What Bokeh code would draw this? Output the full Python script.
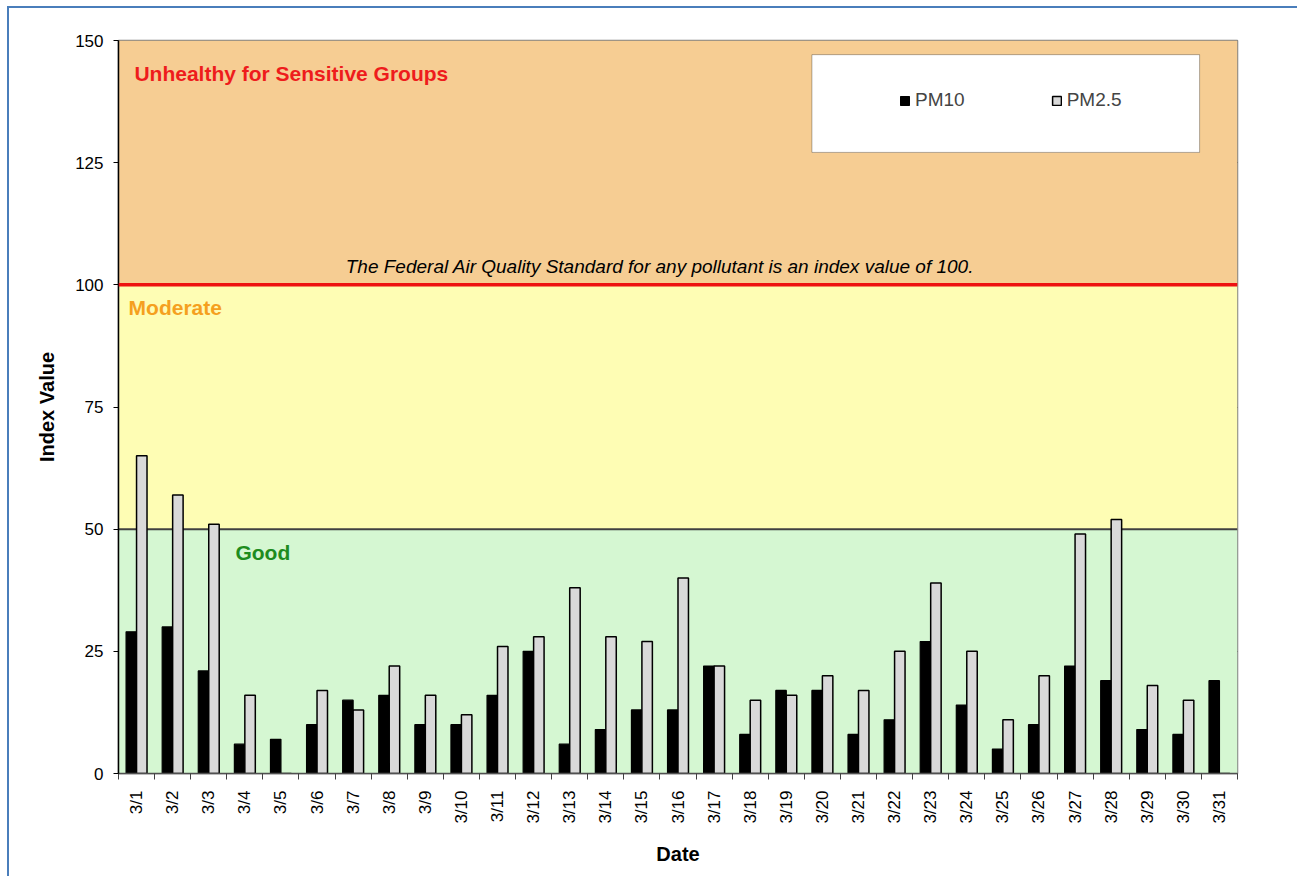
import math
from bokeh.plotting import figure
from bokeh.models import (Range1d, FixedTicker, BoxAnnotation, Span, Label,
                          Legend, LegendItem, ColumnDataSource)
from bokeh.transform import dodge
from bokeh.embed import file_html
from bokeh.resources import INLINE

# ---------------- data ----------------
dates = ["3/%d" % d for d in range(1, 32)]
pm10 = [29, 30, 21, 6, 7, 10, 15, 16, 10, 10, 16, 25, 6, 9, 13, 13, 22, 8, 17, 17,
        8, 11, 27, 14, 5, 10, 22, 19, 9, 8, 19]
pm25 = [65, 57, 51, 16, 0, 17, 13, 22, 16, 12, 26, 28, 38, 28, 27, 40, 22, 15, 16, 20,
        17, 25, 39, 25, 11, 20, 49, 52, 18, 15, 0]
y_ticks = [0, 25, 50, 75, 100, 125, 150]
zone_bottoms = [0, 50, 100]
zone_tops = [50, 100, 150]
zone_colors = ["#d5f7d2", "#fefdb4", "#f6cd93"]
zone_names = ["Good", "Moderate", "Unhealthy for Sensitive Groups"]
zone_name_colors = ["#1e8c1e", "#f5a01e", "#ee1c1c"]
standard_value = 100
standard_text = "The Federal Air Quality Standard for any pollutant is an index value of 100."

FONT = "Liberation Sans"
n = len(dates)
centers = [i + 0.5 for i in range(n)]
bounds = list(range(n + 1))

src = ColumnDataSource(dict(x=centers, date=dates, pm10=pm10, pm25=pm25))

p = figure(width=1290, height=870, output_backend="svg", toolbar_location=None,
           x_range=Range1d(0, n), y_range=Range1d(0, 150),
           min_border_left=109, min_border_top=32, min_border_right=62,
           min_border_bottom=105)
p.styles = {"border-left": "2px solid #4a7ebb", "border-top": "2px solid #4a7ebb",
            "margin-left": "7px", "margin-top": "6px"}
p.background_fill_color = "white"
p.border_fill_color = "white"
p.outline_line_color = "#808080"
p.outline_line_width = 1.5

# zones
for b, t, c in zip(zone_bottoms, zone_tops, zone_colors):
    p.add_layout(BoxAnnotation(bottom=b, top=t, fill_color=c, fill_alpha=1.0,
                               line_alpha=0, level="underlay"))

# grid
p.xgrid.visible = False
p.ygrid.ticker = FixedTicker(ticks=[25, 75, 125])
p.ygrid.grid_line_color = "black"
p.ygrid.grid_line_width = 1
p.ygrid.level = "underlay"
p.add_layout(Span(location=zone_tops[0], dimension="width", line_color="#404040",
                  line_width=2, level="underlay"))
p.add_layout(Span(location=standard_value, dimension="width", line_color="#ee1111",
                  line_width=3.5))

# bars
r1 = p.vbar(x=dodge("x", -0.145), top="pm10", width=0.29, source=src,
            fill_color="black", line_color="black", line_width=1.2)
r2 = p.vbar(x=dodge("x", 0.145), top="pm25", width=0.29, source=src,
            fill_color="#d9d9d9", line_color="black", line_width=1.5)

# axes
xa = p.xaxis[0]
xa.ticker = FixedTicker(ticks=centers, minor_ticks=bounds)
xa.major_label_overrides = {c: d for c, d in zip(centers, dates)}
xa.major_label_orientation = math.pi / 2
xa.major_tick_out = 0
xa.major_tick_in = 0
xa.minor_tick_out = 6
xa.minor_tick_in = 0
xa.minor_tick_line_color = "#404040"
xa.axis_line_color = "#505050"
xa.axis_line_width = 1.5
xa.major_label_standoff = 11
xa.major_label_text_font = FONT
xa.major_label_text_font_size = "17px"
xa.major_label_text_color = "black"
xa.axis_label = "Date"
xa.axis_label_text_font = FONT
xa.axis_label_text_font_size = "20px"
xa.axis_label_text_font_style = "bold"
xa.axis_label_text_color = "black"
xa.axis_label_standoff = 16

ya = p.yaxis[0]
ya.ticker = FixedTicker(ticks=y_ticks)
ya.major_tick_out = 5
ya.major_tick_in = 0
ya.minor_tick_out = 0
ya.minor_tick_in = 0
ya.axis_line_color = "black"
ya.axis_line_width = 1.5
ya.major_label_standoff = 10
ya.major_label_text_font = FONT
ya.major_label_text_font_size = "17px"
ya.major_label_text_color = "black"
ya.axis_label = "Index Value"
ya.axis_label_text_font = FONT
ya.axis_label_text_font_size = "20px"
ya.axis_label_text_font_style = "bold"
ya.axis_label_text_color = "black"
ya.axis_label_standoff = 14

# zone labels
p.add_layout(Label(x=0.44, y=143.3, text=zone_names[2], text_font=FONT,
                   text_font_size="21px", text_font_style="bold",
                   text_color=zone_name_colors[2], text_baseline="middle"))
p.add_layout(Label(x=0.28, y=95.3, text=zone_names[1], text_font=FONT,
                   text_font_size="21px", text_font_style="bold",
                   text_color=zone_name_colors[1], text_baseline="middle"))
p.add_layout(Label(x=3.24, y=45.3, text=zone_names[0], text_font=FONT,
                   text_font_size="21px", text_font_style="bold",
                   text_color=zone_name_colors[0], text_baseline="middle"))
p.add_layout(Label(x=15.0, y=103.7, text=standard_text, text_font=FONT,
                   text_font_size="19px", text_font_style="italic",
                   text_color="black", text_baseline="middle", text_align="center"))

# legend box + legend
p.add_layout(BoxAnnotation(left=19.21, right=29.95, bottom=127.1, top=147.1,
                           fill_color="white", fill_alpha=1.0,
                           line_color="black", line_width=1))
legend = Legend(items=[LegendItem(label="PM10", renderers=[r1]),
                       LegendItem(label="PM2.5", renderers=[r2])],
                orientation="horizontal", location=(781, 662),
                padding=0, margin=0, spacing=86, label_standoff=5,
                glyph_width=11, glyph_height=11,
                label_text_font=FONT, label_text_font_size="19px",
                border_line_alpha=0, background_fill_alpha=0)
p.add_layout(legend)

open("out.html", "w").write(file_html(p, INLINE))
